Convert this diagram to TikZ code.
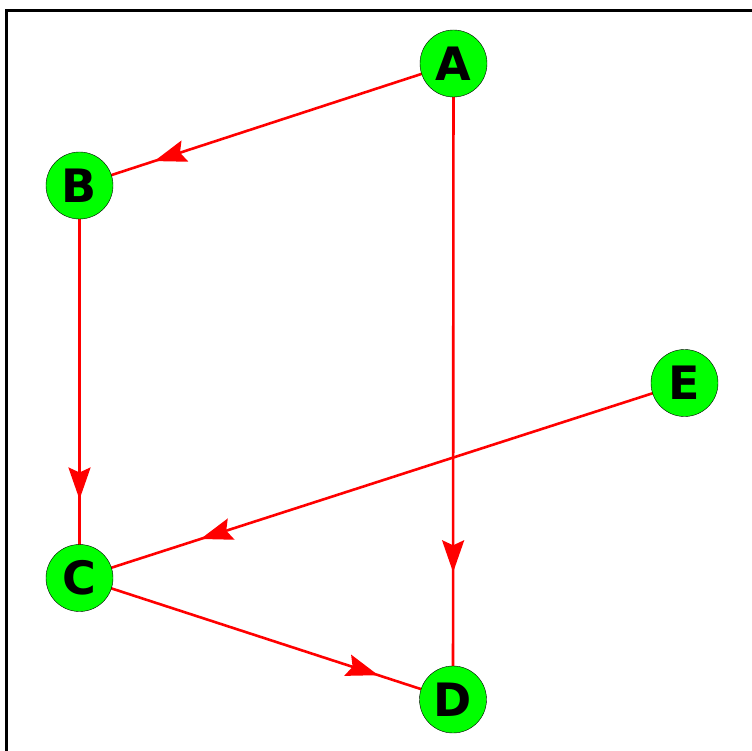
\documentclass[tikz,border=0pt]{standalone}
\usepackage{fontspec}
\newfontfamily\vertexfont{DejaVu Sans}
\definecolor{vertexgreen}{HTML}{00FF00}
\usetikzlibrary{arrows.meta, decorations.markings, backgrounds}
\tikzset{
	vertexnode/.style={
			shape=circle,
			draw=black,
			thin,
			fill=vertexgreen,
			minimum size=67pt,
			inner sep=0pt,
			font=\vertexfont\bfseries\fontsize{46}{46}\selectfont
		},
	arcedge/.style={
			draw=red,
			line width=2.6pt,
			postaction={decorate},
			decoration={markings,
					mark=at position 0.8 with {\arrow{Stealth[length=32pt, width=22pt, inset=5pt]}}}
		}
}
\tikzset{
	framebox/.style={draw=black, line width=3pt}
}

\begin{document}
\begin{tikzpicture}[x=1pt, y=-1pt]

				\useasboundingbox (0,0) rectangle (752,751);
				\draw[framebox] (6,751) -- (6,10.5) -- (752,10.5);

				\node[vertexnode] (A) at (453.5,63.5) {A};
				\node[vertexnode] (B) at (79.5,185.5) {B};
				\node[vertexnode] (C) at (79.5,578) {C};
				\node[vertexnode] (D) at (453,699.5) {D};
				\node[vertexnode] (E) at (684.5,383) {E};

				\begin{scope}[on background layer]
					\draw[arcedge] (A.center) -- (B.center);
					\draw[arcedge] (B.center) -- (C.center);
					\draw[arcedge] (A.center) -- (D.center);
					\draw[arcedge] (E.center) -- (C.center);
					\draw[arcedge] (C.center) -- (D.center);
				\end{scope}

			\end{tikzpicture}
\end{document}
